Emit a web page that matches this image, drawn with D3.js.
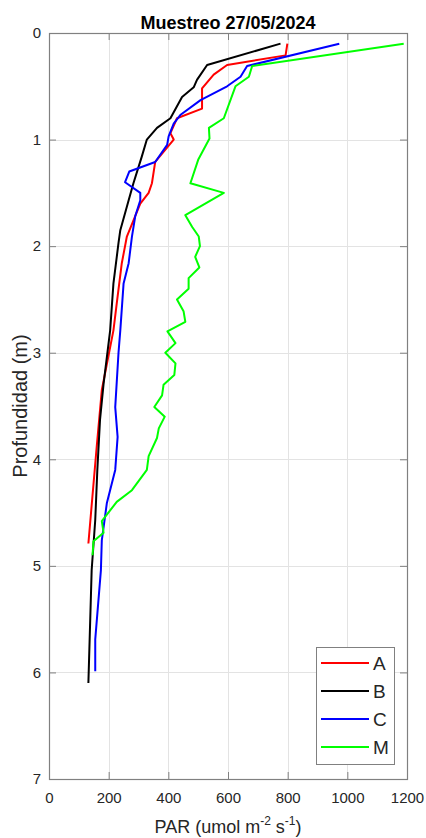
<!DOCTYPE html>
<html>
<head>
<meta charset="utf-8">
<script src="https://cdn.jsdelivr.net/npm/d3@7"></script>
<style>
  html, body { margin: 0; padding: 0; background: #fff; }
  svg { display: block; font-family: "Liberation Sans", Arial, Helvetica, sans-serif; }
</style>
</head>
<body>
<div id="chart"></div>
<script>
// PAR profiles by depth, sampling of 27/05/2024
const depthA = [0.10, 0.21, 0.30, 0.39, 0.52, 0.71, 0.80, 0.94, 1.00, 1.21, 1.41, 1.50, 1.60, 1.91, 2.16, 2.54, 2.79, 3.35, 3.88, 4.79];
const parA   = [799, 793, 597, 552, 513, 513, 429, 407, 418, 356, 345, 334, 306, 261, 244, 227, 216, 177, 160, 132];

const depthB = [0.10, 0.30, 0.44, 0.51, 0.60, 0.80, 0.89, 1.00, 1.16, 1.41, 1.57, 1.85, 1.97, 2.35, 2.79, 3.29, 3.63, 4.10, 4.57, 5.04, 6.10];
const parB   = [776, 530, 496, 485, 446, 407, 362, 328, 311, 283, 267, 239, 233, 216, 205, 183, 171, 162, 155, 143, 132];

const depthC = [0.10, 0.31, 0.41, 0.50, 0.63, 0.77, 0.85, 0.97, 1.05, 1.21, 1.30, 1.40, 1.50, 1.57, 1.72, 1.91, 2.16, 2.35, 2.79, 3.00, 3.51, 3.79, 4.10, 4.41, 4.76, 5.04, 5.69, 5.99];
const parC   = [973, 664, 642, 597, 508, 440, 418, 401, 396, 356, 269, 255, 306, 306, 289, 278, 267, 250, 239, 233, 222, 230, 222, 194, 177, 174, 155, 155];

const depthM = [0.10, 0.31, 0.41, 0.50, 0.80, 0.89, 0.99, 1.19, 1.41, 1.50, 1.71, 1.82, 1.91, 2.00, 2.10, 2.20, 2.30, 2.40, 2.50, 2.61, 2.71, 2.80, 2.91, 3.00, 3.10, 3.21, 3.30, 3.40, 3.51, 3.60, 3.71, 3.80, 3.97, 4.10, 4.29, 4.40, 4.58, 4.69, 4.77, 4.90];
const parM   = [1189, 681, 670, 625, 586, 536, 538, 500, 474, 586, 457, 480, 502, 506, 490, 504, 468, 468, 429, 451, 457, 397, 424, 390, 424, 420, 384, 379, 353, 388, 368, 362, 334, 328, 278, 227, 177, 183, 149, 146];

const seriesNames  = ["A", "B", "C", "M"];
const seriesColors = ["#ff0000", "#000000", "#0000ff", "#00ff00"];

const xTicks = [0, 200, 400, 600, 800, 1000, 1200];
const yTicks = [0, 1, 2, 3, 4, 5, 6, 7];

const titleText = "Muestreo 27/05/2024";
const yLabelText = "Profundidad (m)";

const W = 426, H = 838;
const plot = { left: 49, right: 407, top: 33, bottom: 779 };

const series = seriesNames.map((name, i) => {
  const d = [depthA, depthB, depthC, depthM][i];
  const v = [parA, parB, parC, parM][i];
  return { name, color: seriesColors[i], points: d.map((dep, j) => ({ depth: dep, par: v[j] })) };
});

const x = d3.scaleLinear().domain([0, 1200]).range([plot.left, plot.right]);
const y = d3.scaleLinear().domain([0, 7]).range([plot.top, plot.bottom]);
const fmt = d3.format("d");

const svg = d3.select("#chart").append("svg").attr("width", W).attr("height", H);

// grid
const grid = svg.append("g").attr("stroke", "#e3e3e3").attr("stroke-width", 1);
grid.selectAll("line.vx").data(xTicks.slice(1, -1)).join("line")
  .attr("x1", d => Math.round(x(d)) + 0.5).attr("x2", d => Math.round(x(d)) + 0.5)
  .attr("y1", plot.top).attr("y2", plot.bottom);
grid.selectAll("line.hy").data(yTicks.slice(1, -1)).join("line")
  .attr("y1", d => Math.round(y(d)) + 0.5).attr("y2", d => Math.round(y(d)) + 0.5)
  .attr("x1", plot.left).attr("x2", plot.right);

// data lines
const line = d3.line().x(d => x(d.par)).y(d => y(d.depth));
svg.append("g").selectAll("path").data(series).join("path")
  .attr("d", d => line(d.points))
  .attr("fill", "none")
  .attr("stroke", d => d.color)
  .attr("stroke-width", 2)
  .attr("stroke-linejoin", "round");

// axes (ticks pointing inward)
const axisColor = "#808080";
const tickLen = 7;
function styleAxis(g) {
  g.select(".domain").remove();
  g.selectAll(".tick line").attr("stroke", axisColor);
  g.selectAll(".tick text").attr("fill", "#262626").attr("font-size", 15);
}
svg.append("g").attr("transform", `translate(0,${plot.bottom})`)
  .call(d3.axisBottom(x).tickValues(xTicks).tickFormat(fmt).tickSize(-tickLen).tickPadding(13).tickSizeOuter(0))
  .call(styleAxis);
svg.append("g").attr("transform", `translate(0,${plot.top})`)
  .call(d3.axisTop(x).tickValues(xTicks).tickSize(-tickLen).tickFormat("").tickSizeOuter(0))
  .call(styleAxis);
svg.append("g").attr("transform", `translate(${plot.left},0)`)
  .call(d3.axisLeft(y).tickValues(yTicks).tickFormat(fmt).tickSize(-tickLen).tickPadding(8).tickSizeOuter(0))
  .call(styleAxis);
svg.append("g").attr("transform", `translate(${plot.right},0)`)
  .call(d3.axisRight(y).tickValues(yTicks).tickSize(-tickLen).tickFormat("").tickSizeOuter(0))
  .call(styleAxis);

// box
svg.append("rect")
  .attr("x", plot.left + 0.5).attr("y", plot.top + 0.5)
  .attr("width", plot.right - plot.left).attr("height", plot.bottom - plot.top)
  .attr("fill", "none").attr("stroke", axisColor).attr("stroke-width", 1.2);

// title
svg.append("text")
  .attr("x", (plot.left + plot.right) / 2).attr("y", 29)
  .attr("text-anchor", "middle").attr("font-weight", "bold").attr("font-size", 18)
  .attr("fill", "#000").text(titleText);

// x label with superscripts
const xl = svg.append("text")
  .attr("x", (plot.left + plot.right) / 2).attr("y", 833)
  .attr("text-anchor", "middle").attr("font-size", 18).attr("fill", "#262626");
xl.append("tspan").text("PAR (umol m");
xl.append("tspan").attr("font-size", 12).attr("dy", -8).text("-2");
xl.append("tspan").attr("dy", 8).text(" s");
xl.append("tspan").attr("font-size", 12).attr("dy", -8).text("-1");
xl.append("tspan").attr("dy", 8).text(")");

// y label
svg.append("text")
  .attr("transform", `translate(27,${(plot.top + plot.bottom) / 2}) rotate(-90)`)
  .attr("text-anchor", "middle").attr("font-size", 20).attr("fill", "#262626")
  .text(yLabelText);

// legend
const lg = { x: 316, y: 647, w: 78, h: 117, rowH: 28, first: 16 };
const legend = svg.append("g");
legend.append("rect")
  .attr("x", lg.x + 0.5).attr("y", lg.y + 0.5).attr("width", lg.w).attr("height", lg.h)
  .attr("fill", "#fff").attr("stroke", axisColor).attr("stroke-width", 1);
const rows = legend.selectAll("g.row").data(series).join("g")
  .attr("transform", (d, i) => `translate(${lg.x},${lg.y + lg.first + i * lg.rowH})`);
rows.append("line").attr("x1", 5).attr("x2", 53).attr("y1", 0).attr("y2", 0)
  .attr("stroke", d => d.color).attr("stroke-width", 2);
rows.append("text").attr("x", 57).attr("y", 0).attr("dy", "0.36em")
  .attr("font-size", 19).attr("fill", "#262626").text(d => d.name);
</script>
</body>
</html>
